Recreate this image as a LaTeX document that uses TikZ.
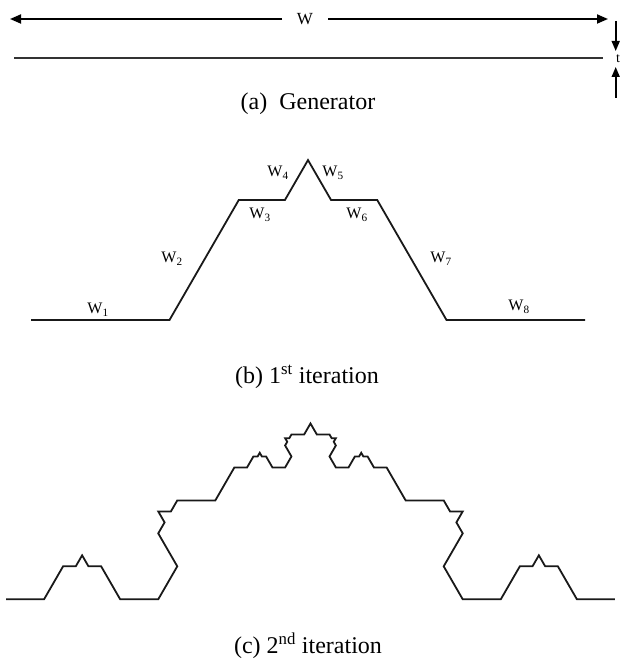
\documentclass[tikz,border=0pt]{standalone}
\usepackage{fontspec}
\setmainfont{Liberation Serif}
\usetikzlibrary{arrows.meta}
\begin{document}
\begin{tikzpicture}[x=1pt,y=1pt,
  curve/.style={line width=1.8pt, black!90},
  lbl/.style={font=\fontsize{16}{18}\selectfont, inner sep=0pt},
  captext/.style={font=\fontsize{24}{28}\selectfont, inner sep=0pt, anchor=base},
  dimarrow/.style={line width=1.8pt, -{Triangle[length=11pt,width=9pt]}},
  tarrow/.style={line width=1.6pt, -{Triangle[length=10pt,width=8pt]}},
]
\useasboundingbox (0,0) rectangle (622,665);
\def\gen{0/3,60/3,0/1,60/1,-60/1,0/1,-60/3,0/3}

% (a) generator
\node[font=\fontsize{17}{19}\selectfont, inner sep=0pt] (wlab) at (305,646) {W};
\coordinate (wl) at (10,646);
\coordinate (wr) at (608,646);
\draw[dimarrow] (282,646) coordinate (wa) -- (wl);
\draw[dimarrow] (328,646) coordinate (wb) -- (wr);
\coordinate (g1) at (14,606.7);
\coordinate (g2) at (603,606.7);
\draw[line width=1.7pt, black!80] (g1) -- (g2);
\coordinate (t1) at (615.7,644);
\coordinate (t2) at (615.7,614);
\coordinate (t3) at (615.7,567);
\coordinate (t4) at (615.7,598);
\draw[tarrow] (t1) -- (t2);
\draw[tarrow] (t3) -- (t4);
\node[font=\fontsize{14}{16}\selectfont, inner sep=0pt, anchor=west] (tlab) at (616,606) {t};
\node[captext] (capa) at (308,555) {(a)~ Generator};

% (b) first iteration
\coordinate (s1) at (31,345);
\draw[curve] (s1) \foreach \a/\l in \gen { -- ++(\a:{\l*46.1667}) };
\node[lbl] (w1) at (98,355) {W\textsubscript{1}};
\node[lbl] (w2) at (172,406) {W\textsubscript{2}};
\node[lbl] (w3) at (260,450) {W\textsubscript{3}};
\node[lbl] (w4) at (278,492) {W\textsubscript{4}};
\node[lbl] (w5) at (333,492) {W\textsubscript{5}};
\node[lbl] (w6) at (357,450) {W\textsubscript{6}};
\node[lbl] (w7) at (441,406) {W\textsubscript{7}};
\node[lbl] (w8) at (519,358) {W\textsubscript{8}};
\node[captext] (capb) at (307,281) {(b) 1\textsuperscript{st} iteration};

% (c) second iteration
\coordinate (s2) at (6,65.7);
\draw[curve] (s2) \foreach \a/\l in \gen { \foreach \b/\m in \gen { -- ++({\a+\b}:{\l*\m*4.229}) } };
\node[captext] (capc) at (308,11) {(c) 2\textsuperscript{nd} iteration};
\end{tikzpicture}
\end{document}
